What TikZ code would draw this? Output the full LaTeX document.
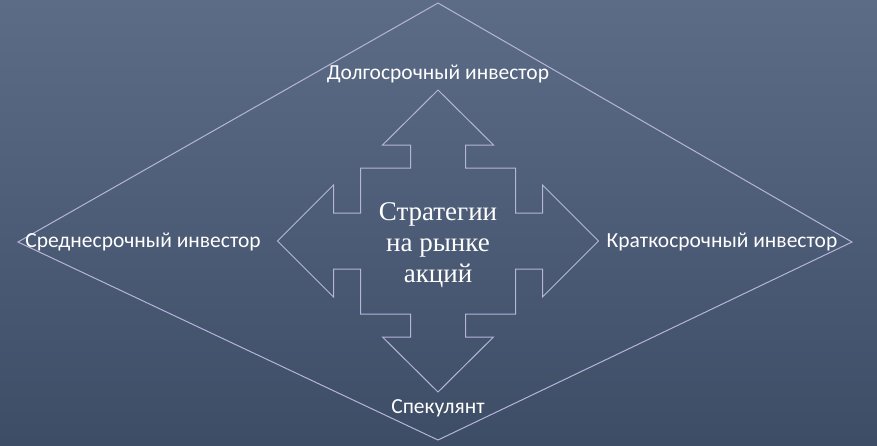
\documentclass[tikz,border=0pt]{standalone}
\usepackage{fontspec}
\setmainfont{Carlito}
\newfontfamily\serifc{Liberation Serif}
\begin{document}
\begin{tikzpicture}[x=1pt,y=-1pt,
  lbl/.style={text=white,font=\fontsize{21.5}{24}\selectfont,inner sep=1pt},
  ln/.style={draw=white!80!blue!70!gray,line width=1pt}]
\shade[top color={rgb,255:red,92;green,108;blue,135},bottom color={rgb,255:red,62;green,77;blue,102}] (0,0) rectangle (877,445);
\useasboundingbox (0,0) rectangle (877,445);
\coordinate (c) at (438,241);
\draw[ln] (438,3) -- (852,242) -- (438,440) -- (18,242) -- cycle;
\draw[ln] (c) ++(0,-151) -- ++(55.5,55) -- ++(-28,0) -- ++(0,23) -- ++(50,0) -- ++(0,45)
  -- ++(27,0) -- ++(0,-28) -- ++(56,56) -- ++(-56,56) -- ++(0,-28) -- ++(-27,0)
  -- ++(0,45) -- ++(-50,0) -- ++(0,23) -- ++(28,0) -- ++(-55.5,55) -- ++(-55.5,-55)
  -- ++(28,0) -- ++(0,-23) -- ++(-50,0) -- ++(0,-45) -- ++(-27,0) -- ++(0,28)
  -- ++(-56,-56) -- ++(56,-56) -- ++(0,28) -- ++(27,0) -- ++(0,-45) -- ++(50,0)
  -- ++(0,-23) -- ++(-28,0) -- cycle;
\node[text=white,align=center,font={\serifc\fontsize{27}{31}\selectfont}] (t) at (438,245) {Стратегии\\на рынке\\акций};
\node[lbl] (top) at (438,74) {Долгосрочный инвестор};
\node[lbl] (left) at (143,242) {Среднесрочный инвестор};
\node[lbl] (right) at (722,242) {Краткосрочный инвестор};
\node[lbl] (bot) at (438,408) {Спекулянт};
\end{tikzpicture}
\end{document}
